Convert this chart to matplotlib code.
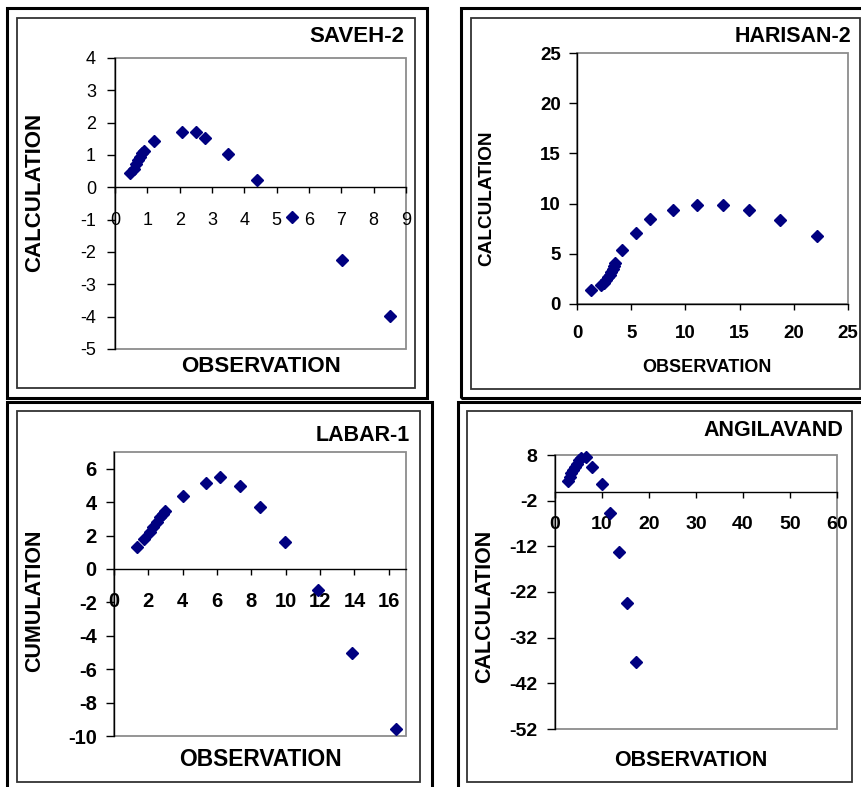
import matplotlib
matplotlib.use("Agg")
from matplotlib import pyplot as plt
from matplotlib.patches import Rectangle

plt.rcParams["font.family"] = ["Liberation Sans", "DejaVu Sans"]
plt.rcParams["axes.unicode_minus"] = False

W, H = 861, 787

# SAVEH-2
saveh_obs = [0.47, 0.58, 0.66, 0.72, 0.78, 0.83, 0.90, 1.21, 2.06, 2.50, 2.78, 3.50, 4.38, 5.48, 7.03, 8.50]
saveh_calc = [0.45, 0.58, 0.72, 0.85, 0.95, 1.05, 1.13, 1.44, 1.72, 1.72, 1.52, 1.02, 0.22, -0.93, -2.25, -3.98]

# HARISAN-2
harisan_obs = [1.29, 2.20, 2.45, 2.65, 2.85, 3.00, 3.15, 3.30, 3.40, 3.50, 4.14, 5.46, 6.75, 8.83, 11.04, 13.50, 15.86, 18.70, 22.10]
harisan_calc = [1.38, 1.88, 2.10, 2.40, 2.65, 2.90, 3.20, 3.50, 3.80, 4.10, 5.37, 7.12, 8.49, 9.35, 9.85, 9.85, 9.35, 8.32, 6.76]

# LABAR-1
labar_obs = [1.35, 1.72, 2.10, 2.29, 2.49, 2.68, 2.87, 2.98, 4.00, 5.38, 6.20, 7.33, 8.50, 9.96, 11.90, 13.86, 16.40]
labar_calc = [1.31, 1.77, 2.21, 2.51, 2.81, 3.11, 3.30, 3.45, 4.36, 5.16, 5.48, 4.96, 3.70, 1.63, -1.27, -5.02, -9.60]

# ANGILAVAND
angil_obs = [2.77, 3.10, 3.50, 3.80, 4.20, 4.60, 5.10, 5.60, 6.60, 7.95, 9.90, 11.65, 13.56, 15.40, 17.20]
angil_calc = [2.30, 3.20, 4.00, 4.70, 5.40, 6.10, 6.90, 7.30, 7.60, 5.45, 1.60, -4.80, -13.20, -24.40, -37.30]

fig = plt.figure(figsize=(W / 100, H / 100), dpi=100)


def frac(x0, y0, x1, y1):
    # pixel box (top-left origin) -> figure fraction rect
    return [x0 / W, 1 - y1 / H, (x1 - x0) / W, (y1 - y0) / H]


def frame(x0, y0, x1, y1, lw, color="black"):
    r = frac(x0, y0, x1, y1)
    fig.add_artist(Rectangle((r[0], r[1]), r[2], r[3], transform=fig.transFigure,
                             fill=False, lw=lw, edgecolor=color))


def text_px(x, y, s, size, ha="center", rot=0):
    fig.text(x / W, 1 - y / H, s, ha=ha, va="center", rotation=rot,
             fontsize=size, fontweight="bold")


def panel(box, obs, calc, xlim, ylim, xticks, yticks, tick_size, bold, xpad, ypad, cross_zero=True):
    ax = fig.add_axes(frac(*box))
    ax.plot(obs, calc, "D", color="#000080", ms=6.3, mec="#000080", clip_on=False, zorder=5)
    ax.set_xlim(*xlim)
    ax.set_ylim(*ylim)
    ax.set_xticks(xticks)
    ax.set_yticks(yticks)
    ax.add_patch(Rectangle((0, 0), 1, 1, transform=ax.transAxes, fill=False,
                           edgecolor="#8c8c8c", lw=1.3, clip_on=False, zorder=1))
    for s in ("top", "right"):
        ax.spines[s].set_visible(False)
    ax.spines["left"].set_linewidth(1.0)
    ax.spines["bottom"].set_linewidth(1.0)
    if cross_zero:
        ax.spines["bottom"].set_position(("data", 0))
    ax.tick_params(axis="x", direction="out", length=4.5, width=1, pad=xpad, labelsize=tick_size)
    ax.tick_params(axis="y", direction="out", length=5.5, width=1, pad=ypad, labelsize=tick_size)
    for lab in ax.get_xticklabels() + ax.get_yticklabels():
        lab.set_fontweight("bold" if bold else "normal")
    return ax


# outer and inner frames
frame(7, 8, 427, 398, 2.2)
frame(17, 18, 415, 388, 1.3, "#333333")
frame(461, 8, 866, 398, 2.2)
frame(471, 18, 860, 389, 1.3, "#333333")
frame(7, 402, 432, 792, 2.2)
frame(17, 411, 420, 782, 1.3, "#333333")
frame(458, 402, 866, 792, 2.2)
frame(467, 411, 852, 782, 1.3, "#333333")

panel((115, 58, 406, 349), saveh_obs, saveh_calc, (0, 9), (-5, 4),
      range(0, 10), range(-5, 5), 13, False, 13.0, 8.2)
panel((577, 53, 848, 304), harisan_obs, harisan_calc, (0, 25), (0, 25),
      range(0, 26, 5), range(0, 26, 5), 13.5, True, 10.7, 6)
panel((114, 452, 406, 736), labar_obs, labar_calc, (0, 17), (-10, 7),
      range(0, 17, 2), range(-10, 7, 2), 14.5, True, 11.8, 7)
panel((555, 455, 837, 729), angil_obs, angil_calc, (0, 60), (-52, 8),
      range(0, 61, 10), range(-52, 9, 10), 14, True, 13.3, 7)

# titles
text_px(404, 37, "SAVEH-2", 16, ha="right")
text_px(851, 37, "HARISAN-2", 15.5, ha="right")
text_px(410, 435, "LABAR-1", 15.5, ha="right")
text_px(843, 430, "ANGILAVAND", 15.5, ha="right")

# axis labels
text_px(261, 367, "OBSERVATION", 16)
text_px(35, 192, "CALCULATION", 16, rot=90)
text_px(707, 368, "OBSERVATION", 13)
text_px(487, 198, "CALCULATION", 13.7, rot=90)
text_px(260, 760, "OBSERVATION", 16.4)
text_px(35, 601, "CUMULATION", 15.5, rot=90)
text_px(691, 760, "OBSERVATION", 15.5)
text_px(485, 606, "CALCULATION", 15.5, rot=90)

fig.savefig("out.png", dpi=100)
